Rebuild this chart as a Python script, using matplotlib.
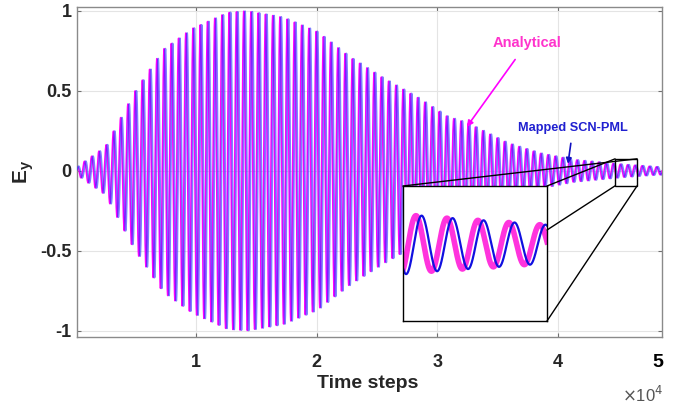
import numpy as np
import matplotlib
matplotlib.use("Agg")
import matplotlib.pyplot as plt
from matplotlib.patches import Rectangle, ConnectionPatch

# ─────────────────────────────────────────────
# DATA
# ─────────────────────────────────────────────

# peak amplitude of Ey along the run (time step -> envelope)
env_steps = [0, 2460, 4860, 7270, 9670, 12570, 14200, 17200, 20020, 22760,
             25490, 28310, 30800, 32450, 35770, 38500, 41240, 45380, 48200, 48600]
env_amp   = [0.02, 0.15, 0.49, 0.76, 0.89, 0.99, 1.0, 0.96, 0.87, 0.71,
             0.58, 0.46, 0.34, 0.30, 0.175, 0.11, 0.07, 0.04, 0.025, 0.025]

period_steps  = 600     # carrier period (peak spacing)
scn_lag_steps = 110     # Mapped SCN-PML lags the analytical trace slightly
t_end         = 48600

x_ticks      = [1e4, 2e4, 3e4, 4e4]
x_ticklabels = ["1", "2", "3", "4"]
y_ticks      = [-1, -0.5, 0, 0.5, 1]
y_ticklabels = ["-1", "-0.5", "0", "0.5", "1"]

# zoomed region marked on the main axes
zoom_t   = (44715, 46540)
zoom_val = (-0.094, 0.075)

MAGENTA = "#ff00ff"
BLUE    = "#2a2aff"
FONT    = ["Liberation Sans Narrow", "Liberation Sans", "DejaVu Sans"]

plt.rcParams["font.family"] = FONT

t = np.linspace(0, t_end, 40000)
env = np.interp(t, env_steps, env_amp)
analytical = env * np.sin(2 * np.pi * t / period_steps)
env_lag = np.interp(t - scn_lag_steps, env_steps, env_amp)
scn_pml = env_lag * np.sin(2 * np.pi * (t - scn_lag_steps) / period_steps)

# ─────────────────────────────────────────────
# FIGURE
# ─────────────────────────────────────────────

W, H = 681, 409
fig = plt.figure(figsize=(W / 100, H / 100), dpi=100, facecolor="white")

def px(x0, y0, x1, y1):
    return [x0 / W, (H - y1) / H, (x1 - x0) / W, (y1 - y0) / H]

ax = fig.add_axes(px(77, 7, 662, 337))

ax.plot(t, analytical, color=MAGENTA, lw=1.1, zorder=2)
ax.plot(t, scn_pml, color=BLUE, lw=1.3, alpha=0.6, zorder=3)

ax.set_xlim(140, t_end)
ax.set_ylim(-1.04, 1.025)
ax.set_xticks(x_ticks)
ax.set_xticklabels(x_ticklabels)
ax.set_yticks(y_ticks)
ax.set_yticklabels(y_ticklabels)
ax.grid(True, color="#e4e4e4", lw=0.8)
ax.set_axisbelow(True)
ax.tick_params(direction="in", length=3, width=0.8, color="#707070",
               top=True, right=True, labelsize=13, labelcolor="#262626")
ax.tick_params(axis="x", pad=12)
ax.tick_params(axis="y", pad=4)
for lbl in ax.get_xticklabels() + ax.get_yticklabels():
    lbl.set_fontweight("bold")
for sp in ax.spines.values():
    sp.set_color("#8a8a8a")
    sp.set_linewidth(1.0)

# last x label and exponent, MATLAB style
ax.text(0.993, -0.076, "5", transform=ax.transAxes, ha="center", va="center",
        fontsize=14, fontweight="bold", color="black")
fig.text(643 / W, (H - 395) / H, r"$\times$10$^4$", ha="center", va="center",
         fontsize=12, color="#555555")

fig.text(368 / W, (H - 384) / H, "Time steps", ha="center", va="center",
         fontsize=14, fontweight="bold", color="#262626")
fig.text(24 / W, (H - 172) / H, r"E$_\mathregular{y}$", ha="center", va="center",
         rotation=90, fontsize=15, fontweight="bold", color="#262626")

# ── annotations ──
ax.annotate("Analytical", xy=(32430, 0.275), xytext=(37420, 0.80),
            ha="center", va="center", fontsize=10.5, fontweight="bold",
            color="#ff33cc",
            arrowprops=dict(arrowstyle="-|>", color=MAGENTA, lw=1.2,
                            mutation_scale=9, shrinkA=6, shrinkB=0))
ax.annotate("Mapped SCN-PML", xy=(40810, 0.044), xytext=(41230, 0.27),
            ha="center", va="center", fontsize=9.2, fontweight="bold",
            color="#2020d0",
            arrowprops=dict(arrowstyle="-|>", color="#1010c0", lw=1.2,
                            mutation_scale=8, shrinkA=5, shrinkB=0))

# ── zoom box on main axes ──
ax.add_patch(Rectangle((zoom_t[0], zoom_val[0]), zoom_t[1] - zoom_t[0],
                       zoom_val[1] - zoom_val[0], fill=False, ec="black",
                       lw=1.0, zorder=6))

# ── inset ──
ax_in = fig.add_axes(px(403, 186, 547, 321), facecolor="white")
k = round(44700 / period_steps + 0.17)
t_a = period_steps * (k - 0.17)
t_b = t_a + 4.65 * period_steps
sel = (t >= t_a - period_steps) & (t <= t_b + period_steps)
A = np.interp((t_a + t_b) / 2, env_steps, env_amp)
ax_in.plot(t[sel], analytical[sel], color="#ff33dd", lw=4.0)
ax_in.plot(t[sel], scn_pml[sel], color="#1010e0", lw=1.6)
ax_in.set_xlim(t_a, t_b)
ax_in.set_ylim(-3.2 * A, 2.42 * A)
ax_in.set_xticks([])
ax_in.set_yticks([])
for sp in ax_in.spines.values():
    sp.set_color("black")
    sp.set_linewidth(1.0)

# connector lines from the inset to the zoom box
links = [((0, 1), (zoom_t[1], zoom_val[1])),
         ((1, 1), (zoom_t[0], zoom_val[1])),
         ((1, 0.674), (zoom_t[0], zoom_val[0])),
         ((1, 0), (zoom_t[1], zoom_val[0]))]
for a_xy, b_xy in links:
    con = ConnectionPatch(xyA=a_xy, coordsA="axes fraction", axesA=ax_in,
                          xyB=b_xy, coordsB="data", axesB=ax,
                          color="black", lw=1.0, zorder=7)
    fig.add_artist(con)

fig.savefig("out.png", dpi=100, facecolor="white")
